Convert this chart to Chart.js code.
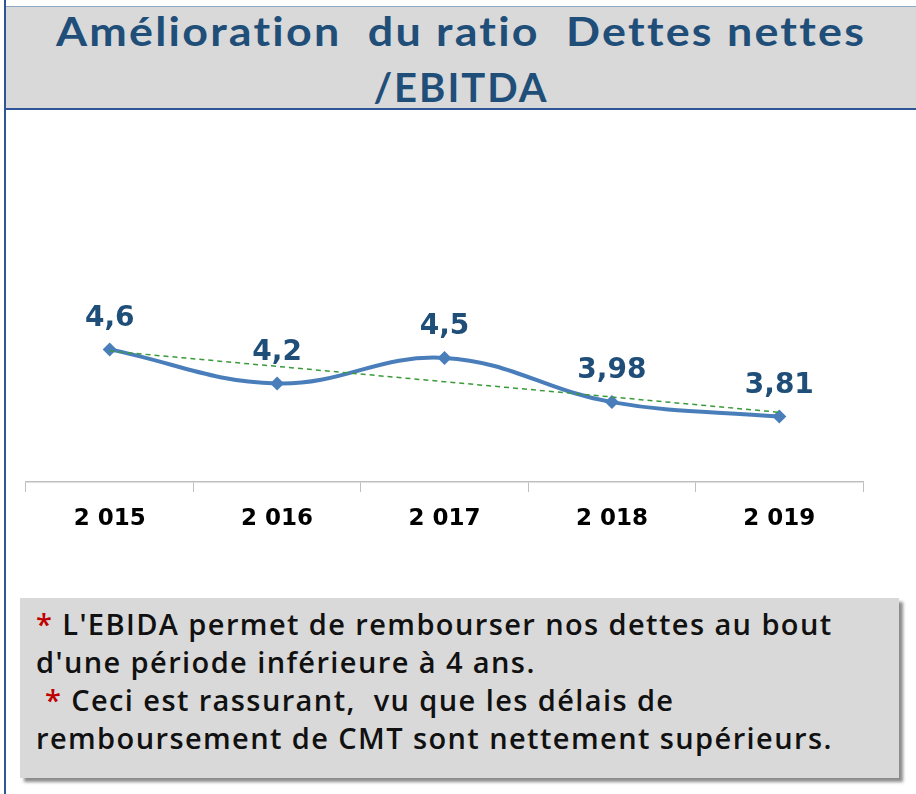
<!DOCTYPE html>
<html>
<head>
<meta charset="utf-8">
<script src="https://cdn.jsdelivr.net/npm/chart.js@4.4.0/dist/chart.umd.min.js"></script>
<style>
  html, body { margin: 0; padding: 0; background: #ffffff; }
  body { width: 916px; height: 794px; position: relative; overflow: hidden; }
  #leftLine { position: absolute; left: 4px; top: 0; width: 2px; height: 794px; background: #2f5597; }
  #titleBox { position: absolute; left: 6px; top: 6px; width: 910px; height: 101px; background: #d9d9d9;
              border-top: 1px solid #8ea9c8; border-bottom: 2px solid #2f5597; }
  #titleBox div { position: absolute; left: 0; width: 100%; text-align: center; white-space: pre;
              font-family: Lato, "Open Sans", sans-serif; font-weight: 700; color: #1f4e79; font-size: 40px; line-height: 48px;
              letter-spacing: 2px; }
  #t1 { top: 0px; transform: scaleX(1.12); transform-origin: 50% 50%; }
  #t2 { top: 56px; }
  #chartWrap { position: absolute; left: 0; top: 250px; width: 916px; height: 282px; }
  #note { position: absolute; left: 20px; top: 598px; width: 879px; height: 180px; background: #d9d9d9;
          box-shadow: 4px 4px 3px #8c8c8c; }
  #note div { position: absolute; left: 16px; white-space: pre; font-family: "Open Sans", Lato, sans-serif;
          font-weight: 600; font-size: 29px; line-height: 38px; color: #111111; letter-spacing: 1.4px; }
  .star { color: #c00000; }
</style>
</head>
<body>
<div id="leftLine"></div>
<div id="titleBox">
  <div id="t1">Amélioration  du ratio  Dettes nettes</div>
  <div id="t2">/EBITDA</div>
</div>
<div id="chartWrap"><canvas id="c" width="916" height="282"></canvas></div>
<div id="note">
  <div style="top:7px"><span class="star">*</span> L'EBIDA permet de rembourser nos dettes au bout</div>
  <div style="top:45px">d'une période inférieure à 4 ans.</div>
  <div style="top:83px"> <span class="star">*</span> Ceci est rassurant,  vu que les délais de</div>
  <div style="top:121px">remboursement de CMT sont nettement supérieurs.</div>
</div>
<script>
const categories = ['2 015', '2 016', '2 017', '2 018', '2 019'];
const ratioValues = [4.6, 4.2, 4.5, 3.98, 3.81];
const ratioLabels = ['4,6', '4,2', '4,5', '3,98', '3,81'];
const trendValues = [4.58, 4.40, 4.22, 4.04, 3.86];
const yMin = 3.04;
const yMax = 5.04;

const valueLabelPlugin = {
  id: 'valueLabels',
  afterDatasetsDraw(chart) {
    const meta = chart.getDatasetMeta(chart.data.datasets.findIndex(d => d.label === 'ratio'));
    const ctx = chart.ctx;
    ctx.save();
    ctx.font = 'bold 28px "DejaVu Sans", sans-serif';
    ctx.fillStyle = '#1f4e79';
    ctx.textAlign = 'center';
    ctx.textBaseline = 'middle';
    meta.data.forEach((pt, i) => {
      ctx.fillText(ratioLabels[i], pt.x, pt.y - 31);
    });
    ctx.restore();
  }
};

new Chart(document.getElementById('c'), {
  type: 'line',
  data: {
    labels: categories,
    datasets: [
      {
        label: 'trend',
        data: trendValues,
        borderColor: '#3a9a3a',
        borderWidth: 1.5,
        borderDash: [5, 4],
        pointRadius: 0,
        tension: 0,
        fill: false,
        order: 0
      },
      {
        label: 'ratio',
        data: ratioValues,
        borderColor: '#4a7ebb',
        backgroundColor: '#4a7ebb',
        borderWidth: 4,
        pointStyle: 'rectRot',
        pointRadius: 7,
        pointBorderWidth: 0,
        pointBackgroundColor: '#4a7ebb',
        tension: 0.4,
        fill: false,
        order: 1
      }
    ]
  },
  options: {
    responsive: false,
    animation: false,
    layout: { padding: { left: 26, right: 53, top: 62, bottom: 0 } },
    plugins: { legend: { display: false }, tooltip: { enabled: false }, title: { display: false } },
    scales: {
      y: { display: false, min: yMin, max: yMax },
      x: {
        offset: true,
        afterFit(scale) { scale.height = 50; },
        grid: { offset: true, drawOnChartArea: false, drawTicks: true, tickLength: 10, color: '#bfbfbf', lineWidth: 1 },
        border: { display: true, color: '#bfbfbf', width: 1.5 },
        ticks: { color: '#000000', padding: 13, font: { family: '"DejaVu Sans", sans-serif', weight: 'bold', size: 23 } }
      }
    }
  },
  plugins: [valueLabelPlugin]
});
</script>
</body>
</html>
